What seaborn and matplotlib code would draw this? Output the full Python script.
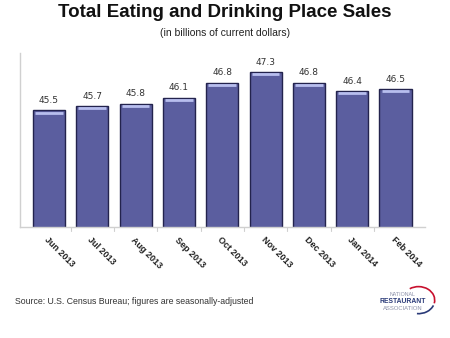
import matplotlib
matplotlib.use("Agg")
import matplotlib.pyplot as plt
import seaborn as sns
import pandas as pd
from matplotlib.patches import Arc

months = ["Jun 2013", "Jul 2013", "Aug 2013", "Sep 2013", "Oct 2013",
          "Nov 2013", "Dec 2013", "Jan 2014", "Feb 2014"]
sales = [45.5, 45.7, 45.8, 46.1, 46.8, 47.3, 46.8, 46.4, 46.5]

df = pd.DataFrame({"month": months, "sales": sales})

sns.set_theme(style="white")
plt.rcParams["font.family"] = ["Liberation Sans", "DejaVu Sans"]

fig = plt.figure(figsize=(4.5, 3.38), dpi=100)
ax = fig.add_axes([0.0444, 0.328, 0.9, 0.515])

sns.barplot(data=df, x="month", y="sales", ax=ax, color="#5b5e9f",
            saturation=1, width=0.74, edgecolor="#23234d", linewidth=1.0)

ax.set_ylim(40, 48.2)
ax.set_xlim(-0.67, 8.68)

# top highlight and value labels
for p, v in zip(ax.patches, sales):
    x0 = p.get_x()
    w = p.get_width()
    ax.plot([x0 + 0.05, x0 + w - 0.05], [v - 0.1, v - 0.1],
            color="#b8beee", lw=2.0, solid_capstyle="butt", zorder=5)
    ax.annotate(f"{v:.1f}", (x0 + w / 2, v), xytext=(0, 4),
                textcoords="offset points", ha="center", va="bottom",
                fontsize=6.5, color="#333333", family="DejaVu Sans")

for s in ["top", "right"]:
    ax.spines[s].set_visible(False)
for s in ["left", "bottom"]:
    ax.spines[s].set_color("#d0d0d0")
    ax.spines[s].set_linewidth(1.0)

ax.set_yticks([])
ax.set_xlabel("")
ax.set_ylabel("")
ax.set_xticks(range(len(months)))
ax.set_xticklabels(months, rotation=-45, ha="left", va="top",
                   rotation_mode="anchor", fontsize=6.5, fontweight="bold",
                   color="#222222")
ax.tick_params(axis="x", length=0, pad=6)
# separator tick marks between categories
for b in [i + 0.5 for i in range(len(months) - 1)]:
    ax.plot([b, b], [0, -0.02], transform=ax.get_xaxis_transform(),
            color="#d0d0d0", lw=0.8, clip_on=False)

fig.text(0.5, 0.962, "Total Eating and Drinking Place Sales", ha="center",
         va="center", fontsize=13.5, fontweight="bold", color="#111111")
fig.text(0.5, 0.902, "(in billions of current dollars)", ha="center",
         va="center", fontsize=7.5, color="#222222")
fig.text(0.033, 0.108, "Source: U.S. Census Bureau; figures are seasonally-adjusted",
         ha="left", va="center", fontsize=6.3, color="#333333")

# logo
fig.text(0.895, 0.130, "NATIONAL", ha="center", va="center", fontsize=3.8,
         color="#8a8fa8")
fig.text(0.895, 0.109, "RESTAURANT", ha="center", va="center", fontsize=4.9,
         fontweight="bold", color="#2a3a78")
fig.text(0.895, 0.088, "ASSOCIATION", ha="center", va="center", fontsize=4.2,
         color="#8a8fa8")
arc = Arc((0.93, 0.112), 0.072, 0.08, theta1=-15, theta2=120,
          transform=fig.transFigure, color="#c8102e", lw=1.2)
fig.add_artist(arc)
arc2 = Arc((0.93, 0.112), 0.072, 0.08, theta1=-95, theta2=-25,
           transform=fig.transFigure, color="#2a3a78", lw=1.2)
fig.add_artist(arc2)

fig.savefig("out.png", dpi=100, facecolor="white")
